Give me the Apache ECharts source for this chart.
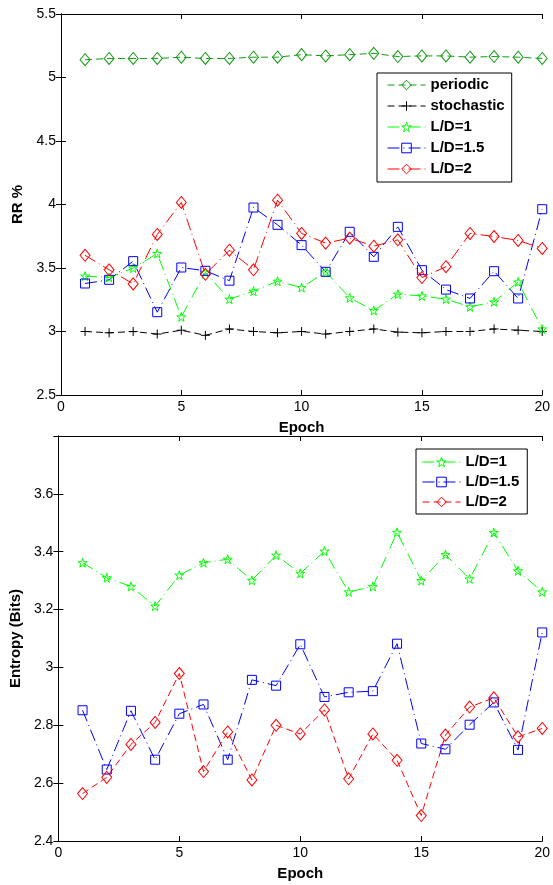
<!DOCTYPE html>
<html>
<head>
<meta charset="utf-8">
<script src="https://cdn.jsdelivr.net/npm/echarts@6/dist/echarts.min.js"></script>
<style>
  html, body { margin: 0; padding: 0; background: #fff; }
  #main { width: 553px; height: 885px; }
</style>
</head>
<body>
<div id="main"></div>
<script>
// epochs on the x axis
const epochs = [1, 2, 3, 4, 5, 6, 7, 8, 9, 10, 11, 12, 13, 14, 15, 16, 17, 18, 19, 20];

// top chart: RR %
const rrPeriodic   = [5.14, 5.15, 5.15, 5.15, 5.16, 5.15, 5.15, 5.16, 5.16, 5.18, 5.17, 5.18, 5.19, 5.165, 5.17, 5.17, 5.16, 5.165, 5.16, 5.15];
const rrStochastic = [3.0, 2.99, 3.0, 2.98, 3.01, 2.97, 3.02, 3.0, 2.99, 3.0, 2.98, 3.0, 3.02, 2.995, 2.99, 3.0, 3.0, 3.02, 3.01, 3.0];
const rrLD1   = [3.436, 3.425, 3.50, 3.614, 3.115, 3.465, 3.255, 3.318, 3.396, 3.346, 3.47, 3.265, 3.165, 3.294, 3.28, 3.255, 3.194, 3.234, 3.39, 3.02];
const rrLD15  = [3.378, 3.407, 3.554, 3.152, 3.504, 3.478, 3.40, 3.976, 3.84, 3.68, 3.47, 3.785, 3.588, 3.824, 3.483, 3.33, 3.26, 3.475, 3.26, 3.963];
const rrLD2   = [3.60, 3.486, 3.375, 3.764, 4.016, 3.45, 3.64, 3.486, 4.034, 3.772, 3.696, 3.735, 3.672, 3.722, 3.425, 3.51, 3.772, 3.748, 3.717, 3.654];

// bottom chart: Entropy (Bits)
const entLD1  = [3.362, 3.31, 3.28, 3.212, 3.319, 3.362, 3.374, 3.301, 3.388, 3.325, 3.402, 3.261, 3.28, 3.467, 3.30, 3.39, 3.306, 3.466, 3.334, 3.261];
const entLD15 = [2.852, 2.647, 2.85, 2.681, 2.84, 2.872, 2.681, 2.957, 2.937, 3.08, 2.898, 2.914, 2.918, 3.082, 2.737, 2.717, 2.802, 2.879, 2.715, 3.121];
const entLD2  = [2.564, 2.62, 2.734, 2.81, 2.979, 2.64, 2.777, 2.611, 2.80, 2.77, 2.853, 2.615, 2.77, 2.679, 2.488, 2.766, 2.863, 2.895, 2.76, 2.789];

const pts = arr => arr.map((v, i) => [epochs[i], v]);

const FONT = 'Liberation Sans, Arial, sans-serif';
const STAR = 'path://M50,0L61,35L98,35L68,57L79,91L50,70L21,91L32,57L2,35L39,35Z';
const PLUS = 'path://M5,0L5,10M0,5L10,5';
const DASH = [7, 4];
const DASHDOT = [12, 4, 1, 4];

function mk(name, data, color, symbol, size, dash, xi) {
  return {
    name: name,
    type: 'line',
    xAxisIndex: xi,
    yAxisIndex: xi,
    data: pts(data),
    symbol: symbol,
    symbolSize: size,
    showAllSymbol: true,
    animation: false,
    lineStyle: { color: color, width: 1, type: dash },
    itemStyle: { color: 'rgba(0,0,0,0)', borderColor: color, borderWidth: 1 },
    emphasis: { disabled: true }
  };
}

function xAx(gi, pos, showLabel) {
  return {
    type: 'value', gridIndex: gi, position: pos, min: 0, max: 20, interval: 5,
    axisLine: { show: true, lineStyle: { color: '#000', width: 1 } },
    axisTick: { show: true, inside: true, length: 5, lineStyle: { color: '#000' } },
    axisLabel: { show: showLabel, color: '#000', fontSize: 14, fontFamily: FONT, margin: 5 },
    splitLine: { show: false },
    name: showLabel ? 'Epoch' : '',
    nameLocation: 'middle',
    nameGap: 25,
    nameTextStyle: { color: '#000', fontSize: 15, fontWeight: 'bold', fontFamily: FONT }
  };
}

function yAx(gi, pos, min, max, iv, name, lim) {
  return {
    type: 'value', gridIndex: gi, position: pos, min: min, max: max, interval: iv,
    axisLine: { show: true, lineStyle: { color: '#000', width: 1 } },
    axisTick: { show: true, inside: true, length: 5, lineStyle: { color: '#000' } },
    axisLabel: {
      show: pos === 'left', color: '#000', fontSize: 14, fontFamily: FONT, margin: 5,
      formatter: v => (v > lim ? '' : String(Math.round(v * 10) / 10))
    },
    splitLine: { show: false },
    name: pos === 'left' ? name : '',
    nameLocation: 'middle',
    nameRotate: 90,
    nameGap: 33,
    nameTextStyle: { color: '#000', fontSize: 15, fontWeight: 'bold', fontFamily: FONT }
  };
}

const legendBase = {
  orient: 'vertical',
  borderColor: '#000',
  borderWidth: 1,
  backgroundColor: '#fff',
  itemWidth: 38,
  itemHeight: 12,
  selectedMode: false,
  itemStyle: { borderWidth: 1 },
  lineStyle: { width: 1 },
  textStyle: { color: '#000', fontSize: 15, fontWeight: 'bold', fontFamily: FONT, lineHeight: 16 },
  formatter: n => n.split('#')[0]
};

const myChart = echarts.init(document.getElementById('main'));
const option = {
  backgroundColor: '#fff',
  animation: false,
  grid: [
    { left: 61, top: 14, width: 485, height: 381 },
    { left: 58, top: 436, width: 485, height: 405 }
  ],
  xAxis: [xAx(0, 'bottom', true), xAx(0, 'top', false), xAx(1, 'bottom', true), xAx(1, 'top', false)],
  yAxis: [
    yAx(0, 'left', 2.5, 5.5, 0.5, 'RR %', 10),
    yAx(0, 'right', 2.5, 5.5, 0.5, '', 10),
    yAx(1, 'left', 2.4, 3.8, 0.2, 'Entropy (Bits)', 3.7),
    yAx(1, 'right', 2.4, 3.8, 0.2, '', 3.7)
  ],
  legend: [
    Object.assign({}, legendBase, {
      left: 377, top: 73, padding: [4, 7, 5, 10], itemGap: 5,
      data: ['periodic', 'stochastic', 'L/D=1', 'L/D=1.5', 'L/D=2']
    }),
    Object.assign({}, legendBase, {
      left: 416, top: 449, padding: [5, 8, 4, 6], itemGap: 4,
      data: ['L/D=1#b', 'L/D=1.5#b', 'L/D=2#b']
    })
  ],
  series: [
    mk('periodic', rrPeriodic, '#109a10', 'diamond', [10, 12], DASH, 0),
    mk('stochastic', rrStochastic, '#000', PLUS, 9, DASH, 0),
    mk('L/D=1', rrLD1, '#00ff00', STAR, 9, DASHDOT, 0),
    mk('L/D=1.5', rrLD15, '#0000ff', 'rect', 9, DASHDOT, 0),
    mk('L/D=2', rrLD2, '#ff0000', 'diamond', [10, 12], DASHDOT, 0),
    mk('L/D=1#b', entLD1, '#00ff00', STAR, 9, DASHDOT, 2),
    mk('L/D=1.5#b', entLD15, '#0000ff', 'rect', 9, DASHDOT, 2),
    mk('L/D=2#b', entLD2, '#ff0000', 'diamond', [10, 12], DASH, 2)
  ]
};
myChart.setOption(option);
</script>
</body>
</html>
